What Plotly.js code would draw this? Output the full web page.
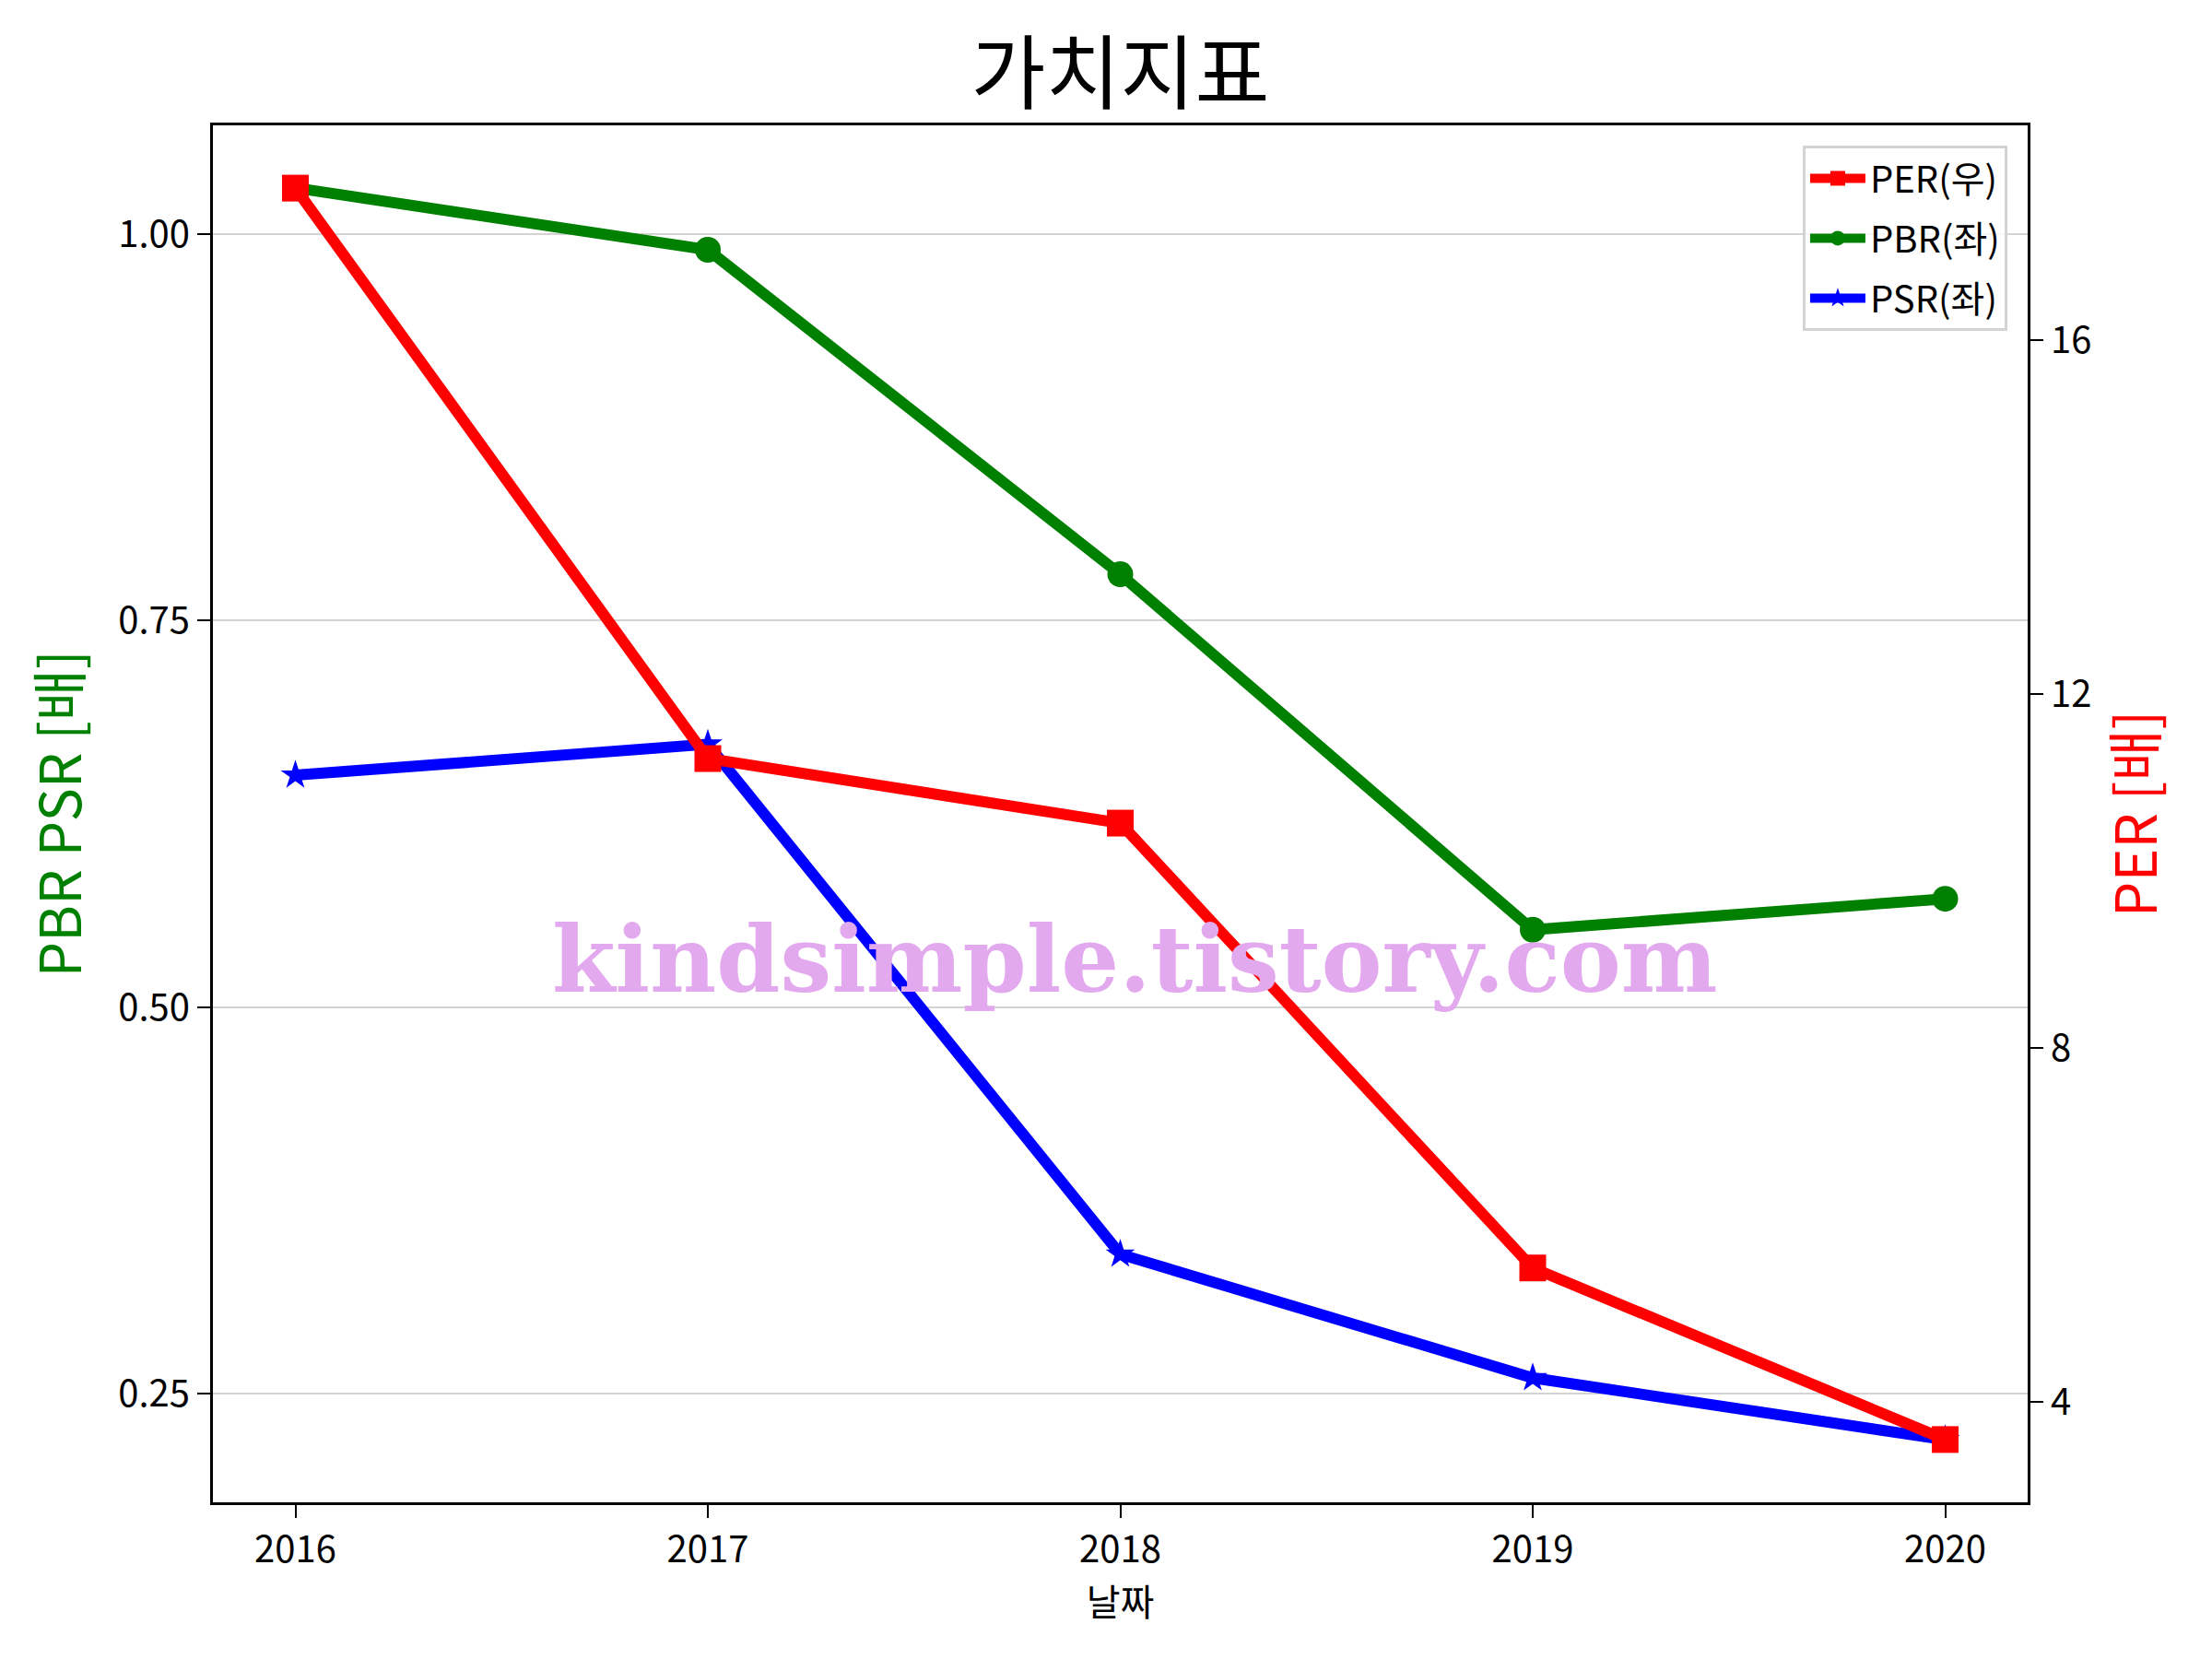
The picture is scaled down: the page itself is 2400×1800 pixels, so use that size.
<!DOCTYPE html>
<html>
<head>
<meta charset="utf-8">
<script src="https://cdn.plot.ly/plotly-3.0.1.min.js"></script>
<style>html,body{margin:0;padding:0;background:#fff;}#chart{width:2400px;height:1800px;}</style>
</head>
<body>
<div id="chart"></div>
<script>
const years = [2016, 2017, 2018, 2019, 2020];
const per = [17.72, 11.27, 10.54, 5.51, 3.57];
const pbr = [1.03, 0.99, 0.78, 0.55, 0.57];
const psr = [0.65, 0.67, 0.34, 0.26, 0.22];
const leftTicks = [0.25, 0.50, 0.75, 1.00];
const rightTicks = [4, 8, 12, 16];
const labels = {title: '가치지표', x: '날짜', yLeft: 'PBR PSR [배]', yRight: 'PER [배]',
  per: 'PER(우)', pbr: 'PBR(좌)', psr: 'PSR(좌)', watermark: 'kindsimple.tistory.com'};

const FONT = '"Noto Sans CJK KR", "Noto Sans", sans-serif';

const traces = [
  {x: years, y: pbr, name: labels.pbr, yaxis: 'y', mode: 'lines+markers', legendrank: 2, legendgroup: 'b',
   line: {color: 'green', width: 12}, marker: {symbol: 'circle', size: 28, color: 'green'}},
  {x: years, y: psr, name: labels.psr, yaxis: 'y', mode: 'lines+markers', legendrank: 3, legendgroup: 'c',
   line: {color: 'blue', width: 12}, marker: {symbol: 'star', size: 24, color: 'blue'}},
  {x: years, y: per, name: labels.per, yaxis: 'y2', mode: 'lines+markers', legendrank: 1, legendgroup: 'a',
   line: {color: 'red', width: 12}, marker: {symbol: 'square', size: 29, color: 'red'}}
];

const layout = {
  width: 2400, height: 1800,
  paper_bgcolor: '#fff', plot_bgcolor: '#fff',
  margin: {l: 231, r: 200, t: 136, b: 170},
  font: {family: FONT, size: 40, color: '#000'},
  title: {text: labels.title, font: {family: FONT, size: 88, color: '#000'},
          x: 0.5, xref: 'paper', xanchor: 'center', y: 1 - 80/1800, yref: 'container', yanchor: 'middle'},
  xaxis: {range: [2015.8, 2020.2], tickvals: years, ticktext: years.map(String),
          showgrid: false, zeroline: false, showline: true, linecolor: '#000', linewidth: 3, mirror: true,
          ticks: 'outside', ticklen: 14, tickwidth: 2, tickcolor: '#000',
          tickfont: {family: FONT, size: 40},
          title: {text: labels.x, font: {family: FONT, size: 40}, standoff: 12}},
  yaxis: {range: [0.1795, 1.0705], tickvals: leftTicks, ticktext: leftTicks.map(v => v.toFixed(2)),
          showgrid: true, gridcolor: '#d3d3d3', gridwidth: 2, zeroline: false,
          showline: true, linecolor: '#000', linewidth: 3, mirror: true,
          ticks: 'outside', ticklen: 14, tickwidth: 2, tickcolor: '#000',
          tickfont: {family: FONT, size: 40},
          title: {text: labels.yLeft, font: {family: FONT, size: 61, color: 'green'}, standoff: 20}},
  yaxis2: {overlaying: 'y', side: 'right', range: [2.86, 18.43], tickvals: rightTicks, ticktext: rightTicks.map(String),
           showgrid: false, zeroline: false, showline: true, linecolor: '#000', linewidth: 3,
           ticks: 'outside', ticklen: 14, tickwidth: 2, tickcolor: '#000',
           tickfont: {family: FONT, size: 40},
           title: {text: labels.yRight, font: {family: FONT, size: 61, color: 'red'}, standoff: 20}},
  showlegend: true,
  legend: {x: 0.9888, y: 0.9853, xanchor: 'right', yanchor: 'top', traceorder: 'grouped', tracegroupgap: 10,
           bgcolor: 'rgba(255,255,255,0.8)', bordercolor: '#d3d3d3', borderwidth: 3,
           font: {family: FONT, size: 40}, itemwidth: 60},
  annotations: [{text: '<b>' + labels.watermark + '</b>', xref: 'paper', yref: 'paper', x: 0.508, y: 0.394,
                 xanchor: 'center', yanchor: 'middle', showarrow: false,
                 font: {family: '"DejaVu Serif", serif', size: 99, color: '#e3a9ee'}}]
};

Plotly.newPlot('chart', traces, layout, {displayModeBar: false, staticPlot: true});
</script>
</body>
</html>
